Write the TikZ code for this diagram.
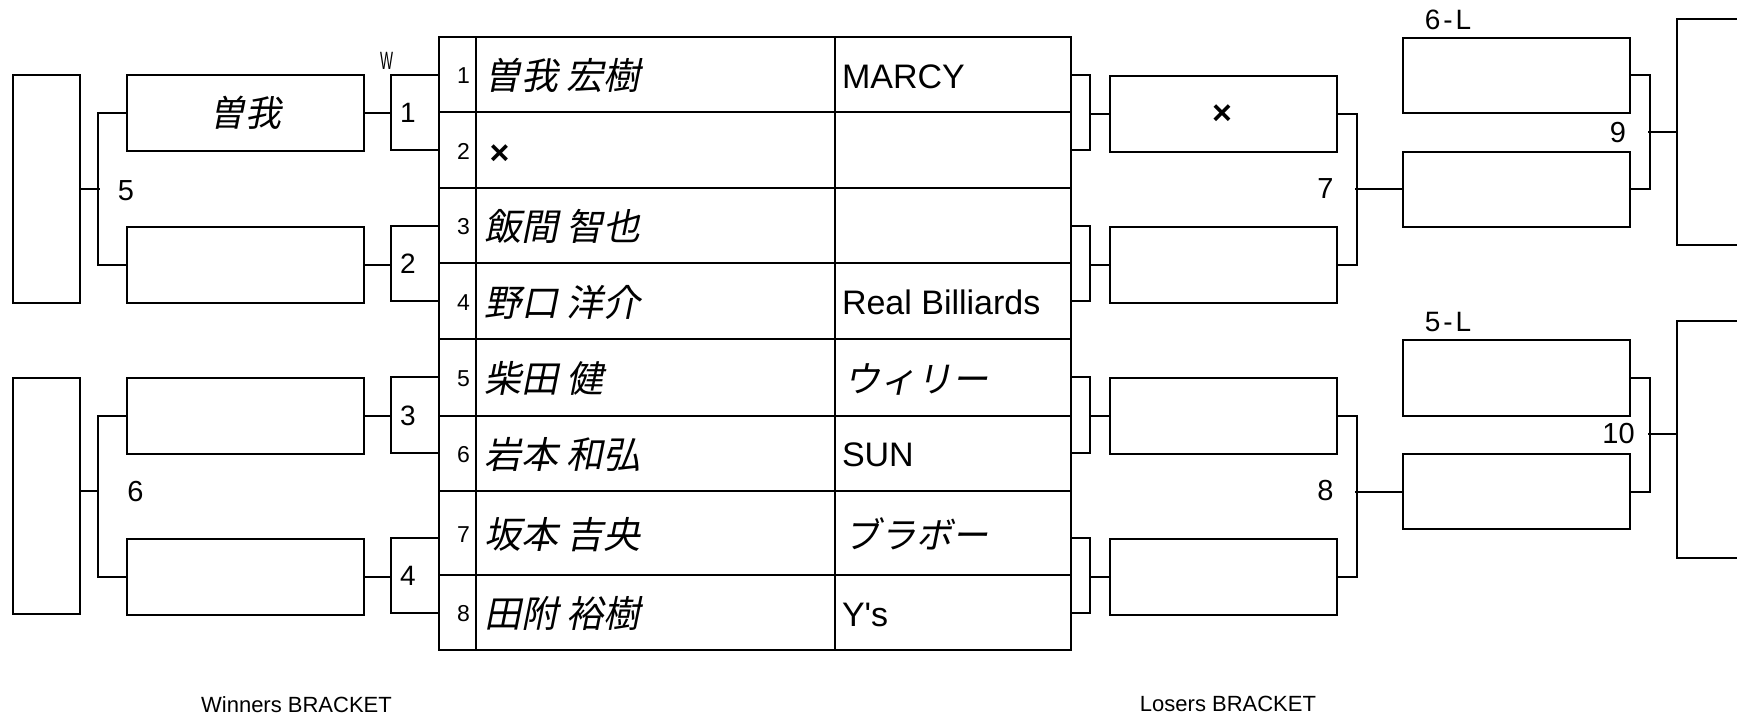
\documentclass[tikz,border=0pt]{standalone}
\usepackage{fontspec}
\usepackage{graphicx}
\setmainfont{Liberation Sans}[Ligatures=TeXOff]
\newfontfamily\jp{Noto Sans CJK JP}[FakeSlant=0.2]
\newcommand{\jsp}{\hspace{9pt}}
\begin{document}
\begin{tikzpicture}[x=1pt,y=-1pt,line width=2pt,
  wbox/.style={draw,inner sep=0pt,anchor=north west,minimum width=237pt,minimum height=76pt},
  lbox/.style={draw,inner sep=0pt,anchor=north west,minimum width=227pt,minimum height=76pt},
  fbox/.style={draw,inner sep=0pt,anchor=north west,minimum width=67pt},
  rbox/.style={draw,inner sep=0pt,anchor=north west,minimum width=120pt},
  pname/.style={anchor=base west,inner sep=0pt,font=\jp\fontsize{37pt}{37pt}\selectfont},
  jteam/.style={anchor=base west,inner sep=0pt,font=\jp\fontsize{36pt}{36pt}\selectfont},
  team/.style={anchor=base west,inner sep=0pt,font=\fontsize{34pt}{34pt}\selectfont},
  seed/.style={anchor=base east,inner sep=0pt,font=\fontsize{23pt}{23pt}\selectfont},
  mnum/.style={inner sep=0pt,font=\fontsize{29pt}{29pt}\selectfont},
  snum/.style={inner sep=0pt,font=\fontsize{28pt}{28pt}\selectfont},
  cross/.style={inner sep=0pt,font=\bfseries\fontsize{34pt}{34pt}\selectfont},
  caption/.style={inner sep=0pt,font=\fontsize{22pt}{22pt}\selectfont}]
\useasboundingbox (0,0) rectangle (1737,720);

% ---------- central table ----------
\draw (438.5,36.5) rectangle (1071,650);
\foreach \yy in {112.3,188,263.3,338.5,416,490.7,575.3}
  \draw (438.5,\yy) -- (1071,\yy);
\draw (476,36.5) -- (476,650);
\draw (835,36.5) -- (835,650);

\node[seed] (n1) at (471,83.4) {1};
\node[seed] (n2) at (471,159.2) {2};
\node[seed] (n3) at (471,234.7) {3};
\node[seed] (n4) at (471,310) {4};
\node[seed] (n5) at (471,386.2) {5};
\node[seed] (n6) at (471,462.3) {6};
\node[seed] (n7) at (471,542) {7};
\node[seed] (n8) at (471,621.7) {8};

\node[pname] (p1) at (483,89.4) {曽我\jsp 宏樹};
\node[cross] (p2) at (499.5,155) {×};
\node[pname] (p3) at (483,240.7) {飯間\jsp 智也};
\node[pname] (p4) at (483,316) {野口\jsp 洋介};
\node[pname] (p5) at (483,392.2) {柴田\jsp 健};
\node[pname] (p6) at (483,468.3) {岩本\jsp 和弘};
\node[pname] (p7) at (483,548) {坂本\jsp 吉央};
\node[pname] (p8) at (483,627.7) {田附\jsp 裕樹};

\node[team] (t1) at (841,88) {MARCY};
\node[team] (t4) at (841,314.6) {Real Billiards};
\node[jteam] (t5) at (843,392.2) {ウィリー};
\node[team] (t6) at (841,466.9) {SUN};
\node[jteam] (t7) at (843,548) {ブラボー};
\node[team] (t8) at (841,626.3) {Y's};

% ---------- seat points on the table edges ----------
\coordinate (sL1) at (438.5,75);   \coordinate (sL2) at (438.5,150);
\coordinate (sL3) at (438.5,225.5);\coordinate (sL4) at (438.5,301);
\coordinate (sL5) at (438.5,377);  \coordinate (sL6) at (438.5,453);
\coordinate (sL7) at (438.5,537.5);\coordinate (sL8) at (438.5,613);
\coordinate (sR1) at (1071,75);    \coordinate (sR2) at (1071,150);
\coordinate (sR3) at (1071,225.5); \coordinate (sR4) at (1071,301);
\coordinate (sR5) at (1071,377);   \coordinate (sR6) at (1071,453);
\coordinate (sR7) at (1071,537.5); \coordinate (sR8) at (1071,613);

% ---------- winners bracket ----------
\node[wbox] (w1) at (126,74) {\jp\fontsize{36pt}{36pt}\selectfont 曽我};
\node[wbox] (w2) at (126,225.5) {};
\node[wbox] (w3) at (126,377) {};
\node[wbox] (w4) at (126,537.5) {};
\node[fbox,minimum height=228pt] (f5) at (12,74) {};
\node[fbox,minimum height=236.6pt] (f6) at (12,376.7) {};

\coordinate (m1t) at (391,75);    \coordinate (m1b) at (391,150);
\coordinate (m2t) at (391,225.5); \coordinate (m2b) at (391,301);
\coordinate (m3t) at (391,377);   \coordinate (m3b) at (391,453);
\coordinate (m4t) at (391,537.5); \coordinate (m4b) at (391,613);
\draw (sL1) -- (m1t) -- (m1b) -- (sL2);
\draw (sL3) -- (m2t) -- (m2b) -- (sL4);
\draw (sL5) -- (m3t) -- (m3b) -- (sL6);
\draw (sL7) -- (m4t) -- (m4b) -- (sL8);
\draw (w1.east) -- (w1.east -| m1t);
\draw (w2.east) -- (w2.east -| m2t);
\draw (w3.east) -- (w3.east -| m3t);
\draw (w4.east) -- (w4.east -| m4t);
\node[snum] (l1) at (408,113) {1};
\node[snum] (l2) at (408,264) {2};
\node[snum] (l3) at (408,416) {3};
\node[snum] (l4) at (408,576) {4};
\node[inner sep=0pt,font=\fontsize{25pt}{25pt}\selectfont] (wl) at (386.5,61) {\scalebox{0.55}[1]{W}};

\draw (w1.west) -- ++(-28,0) |- (w2.west);
\draw (f5.east) -- ++(19,0);
\draw (w3.west) -- ++(-28,0) |- (w4.west);
\coordinate (j6m) at (98,491);
\draw (j6m) -- (j6m -| f6.east);
\node[mnum] (l5) at (126,191) {5};
\node[mnum] (l6) at (135.5,492) {6};

% ---------- losers bracket ----------
\node[lbox] (r1) at (1109,75) {};
\node[cross] (r1x) at (1222,115) {×};
\node[lbox] (r2) at (1109,225.5) {};
\node[lbox] (r3) at (1109,377) {};
\node[lbox] (r4) at (1109,537.5) {};

\coordinate (q1t) at (1090,75);    \coordinate (q1b) at (1090,150);
\coordinate (q2t) at (1090,225.5); \coordinate (q2b) at (1090,301);
\coordinate (q3t) at (1090,377);   \coordinate (q3b) at (1090,453);
\coordinate (q4t) at (1090,537.5); \coordinate (q4b) at (1090,613);
\draw (sR1) -- (q1t) -- (q1b) -- (sR2);
\draw (sR3) -- (q2t) -- (q2b) -- (sR4);
\draw (sR5) -- (q3t) -- (q3b) -- (sR6);
\draw (sR7) -- (q4t) -- (q4b) -- (sR8);
\draw (r1.west -| q1t) -- (r1.west);
\draw (r2.west -| q2t) -- (r2.west);
\draw (r3.west -| q3t) -- (r3.west);
\draw (r4.west -| q4t) -- (r4.west);

\node[lbox,minimum height=75.8pt] (g6) at (1402,36.5) {};
\node[lbox,minimum height=75.5pt] (gb) at (1402,150.5) {};
\node[lbox,minimum height=75.5pt] (g5) at (1402,339.2) {};
\node[lbox,minimum height=75.8pt] (gd) at (1402,452.6) {};
\node[snum] (l6L) at (1448,20) {6\hspace{3pt}-\hspace{3pt}L};
\node[snum] (l5L) at (1448,322) {5\hspace{3pt}-\hspace{3pt}L};

\draw (r1.east) -- ++(19,0) |- (r2.east);
\draw (gb.west) -- ++(-47,0);
\draw (r3.east) -- ++(19,0) |- (r4.east);
\draw (gd.west) -- ++(-47,0);
\node[mnum] (l7) at (1325.5,189) {7};
\node[mnum] (l8) at (1325.5,491) {8};

\node[rbox,minimum height=226.3pt] (f9) at (1676,17.7) {};
\node[rbox,minimum height=236.7pt] (f10) at (1676,320) {};
\draw (g6.east) -- ++(19,0) |- (gb.east);
\draw (f9.west) -- ++(-28,0);
\draw (g5.east) -- ++(19,0) |- (gd.east);
\coordinate (j10m) at (1648,433.5);
\draw (j10m) -- (j10m -| f10.west);
\node[mnum] (l9) at (1618,132.5) {9};
\node[mnum] (l10) at (1618.5,434) {10};

% ---------- captions ----------
\node[caption] (cw) at (296.5,705) {Winners BRACKET};
\node[caption] (cl) at (1228,704) {Losers BRACKET};
\end{tikzpicture}
\end{document}
